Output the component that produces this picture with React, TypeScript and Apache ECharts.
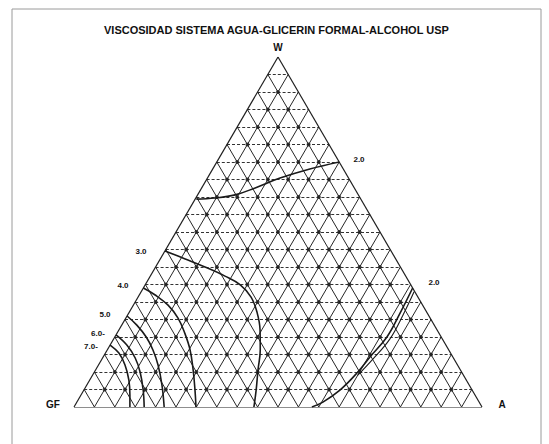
import React, { useEffect, useRef } from "react";
import * as echarts from "echarts";

// ---- data (ternary fractions in %, [W, A]; GF = 100 - W - A) ----
const TITLE = "VISCOSIDAD SISTEMA AGUA-GLICERIN FORMAL-ALCOHOL USP";
const DIVISIONS = 20;
const VERTEX_LABELS = ["W", "GF", "A"];

const CURVE_20_TOP = [[70, 30], [68, 23.8], [65.4, 17.8], [62.6, 13.1], [60.6, 9.2], [59.7, 4.7], [59.4, 0.3]];
const CURVE_30 = [[44.6, 0], [42.3, 6.1], [40, 12.1], [37.4, 18.3], [34.9, 23.3], [31.4, 27.7], [27.1, 31.3], [22, 34.6], [16.3, 37.5], [10.6, 39.8], [4.9, 42.2], [0, 44.1]];
const CURVE_40 = [[34, 0], [32, 3.9], [29.1, 8.5], [25.4, 12.8], [21.1, 16.6], [16.3, 20.3], [10.6, 23.9], [4.9, 27.2], [0, 29.9]];
const CURVE_50 = [[26, 0], [23.4, 3.7], [20, 7.7], [16.3, 11.2], [12, 14.6], [6.3, 18.4], [0, 22.1]];
const CURVE_60 = [[20.6, 0], [17.7, 4.1], [14, 8], [10, 11.2], [4.9, 14.5], [0, 17.2]];
const CURVE_70 = [[17.7, 0], [15.4, 3.3], [12, 6.5], [7.7, 9.6], [3.4, 12], [0, 13.7]];
const CURVE_20_RIGHT = [[34, 66], [26.9, 66.5], [20, 66.7], [14.3, 65.4], [9.7, 64.5], [4.9, 62.8], [1.4, 60.3], [0, 58.3]];
const CURVE_20_RIGHT_B = [[32.9, 66.9], [26.3, 67.5], [19.4, 67.7], [13.7, 66.4], [9.1, 65]];

const CONTOUR_LABELS = ["2.0", "3.0", "4.0", "5.0", "6.0-", "7.0-", "2.0"];

// ---- helpers ----
const toXY = (w: number, a: number): [number, number] => [a / 100 + w / 200, w / 100];

export default function App() {
  const ref = useRef<HTMLDivElement>(null);
  useEffect(() => {
    if (!ref.current) return;
    const chart = echarts.init(ref.current, undefined, { renderer: "svg" });
    const n = DIVISIONS;
    const dashed: any[] = [];
    const solid: any[] = [];
    for (let k = 1; k < n; k++) {
      const f = (k / n) * 100;
      dashed.push({ coords: [toXY(f, 0), toXY(f, 100 - f)] });
      solid.push({ coords: [toXY(0, f), toXY(100 - f, f)] });
      solid.push({ coords: [toXY(0, 100 - f), toXY(100 - f, 0)] });
    }
    const edges = [
      { coords: [toXY(0, 0), toXY(0, 100)] },
      { coords: [toXY(0, 0), toXY(100, 0)] },
      { coords: [toXY(0, 100), toXY(100, 0)] },
    ];
    const nodes: [number, number][] = [];
    for (let i = 1; i < n - 1; i++) {
      for (let j = 1; j < n - i; j++) {
        nodes.push(toXY((i / n) * 100, (j / n) * 100));
      }
    }
    const curves = [CURVE_20_TOP, CURVE_30, CURVE_40, CURVE_50, CURVE_60, CURVE_70, CURVE_20_RIGHT, CURVE_20_RIGHT_B];
    const curveSeries = curves.map((c, idx) => ({
      type: "line",
      data: c.map((p) => toXY(p[0], p[1])),
      smooth: 0.4,
      symbol: "none",
      lineStyle: { color: "#1a1a1a", width: idx === 7 ? 1.1 : 1.6 },
      z: 5,
      silent: true,
    }));

    const font = "Liberation Sans, Arial, sans-serif";
    const labelPos: [number, number][] = [[359, 159], [141, 251], [123, 285], [105, 314], [98, 333], [91, 346], [434, 282]];
    const vertexPos: [number, number][] = [[278, 47], [53, 404], [502, 404]];
    const graphics: any[] = [
      { type: "rect", shape: { x: 12, y: 9, width: 529, height: 450 }, style: { fill: "none", stroke: "#9a9a9a", lineWidth: 1 }, silent: true },
    ];
    VERTEX_LABELS.forEach((t, i) => {
      graphics.push({
        type: "text", x: vertexPos[i][0], y: vertexPos[i][1],
        style: { text: t, fontSize: 10, fontWeight: "bold", fontFamily: font, fill: "#111", align: "center", verticalAlign: "middle" },
      });
    });
    CONTOUR_LABELS.forEach((t, i) => {
      graphics.push({
        type: "text", x: labelPos[i][0], y: labelPos[i][1],
        style: { text: t, fontSize: 8, fontWeight: "bold", fontFamily: font, fill: "#111", align: "center", verticalAlign: "middle" },
      });
    });

    chart.setOption({
      animation: false,
      title: {
        text: TITLE, left: 104, top: 24, padding: 0,
        textStyle: { fontSize: 11, fontWeight: "bold", color: "#111", fontFamily: font },
      },
      grid: { left: 74, top: 57, width: 408, height: 350 },
      xAxis: { type: "value", min: 0, max: 1, show: false },
      yAxis: { type: "value", min: 0, max: 1, show: false },
      graphic: graphics,
      series: [
        { type: "lines", coordinateSystem: "cartesian2d", data: dashed, silent: true, z: 2, lineStyle: { color: "#333", width: 1, type: [3, 2], opacity: 1 } },
        { type: "lines", coordinateSystem: "cartesian2d", data: solid, silent: true, z: 2, lineStyle: { color: "#262626", width: 1, opacity: 1 } },
        { type: "lines", coordinateSystem: "cartesian2d", data: edges, silent: true, z: 3, lineStyle: { color: "#1e1e1e", width: 1.2, opacity: 1 } },
        { type: "scatter", data: nodes, symbolSize: 4, z: 4, itemStyle: { color: "#1e1e1e" }, silent: true },
        ...curveSeries,
      ],
    });
    return () => chart.dispose();
  }, []);
  return <div ref={ref} style={{ position: "absolute", left: 0, top: 0, width: 549, height: 444 }} />;
}
